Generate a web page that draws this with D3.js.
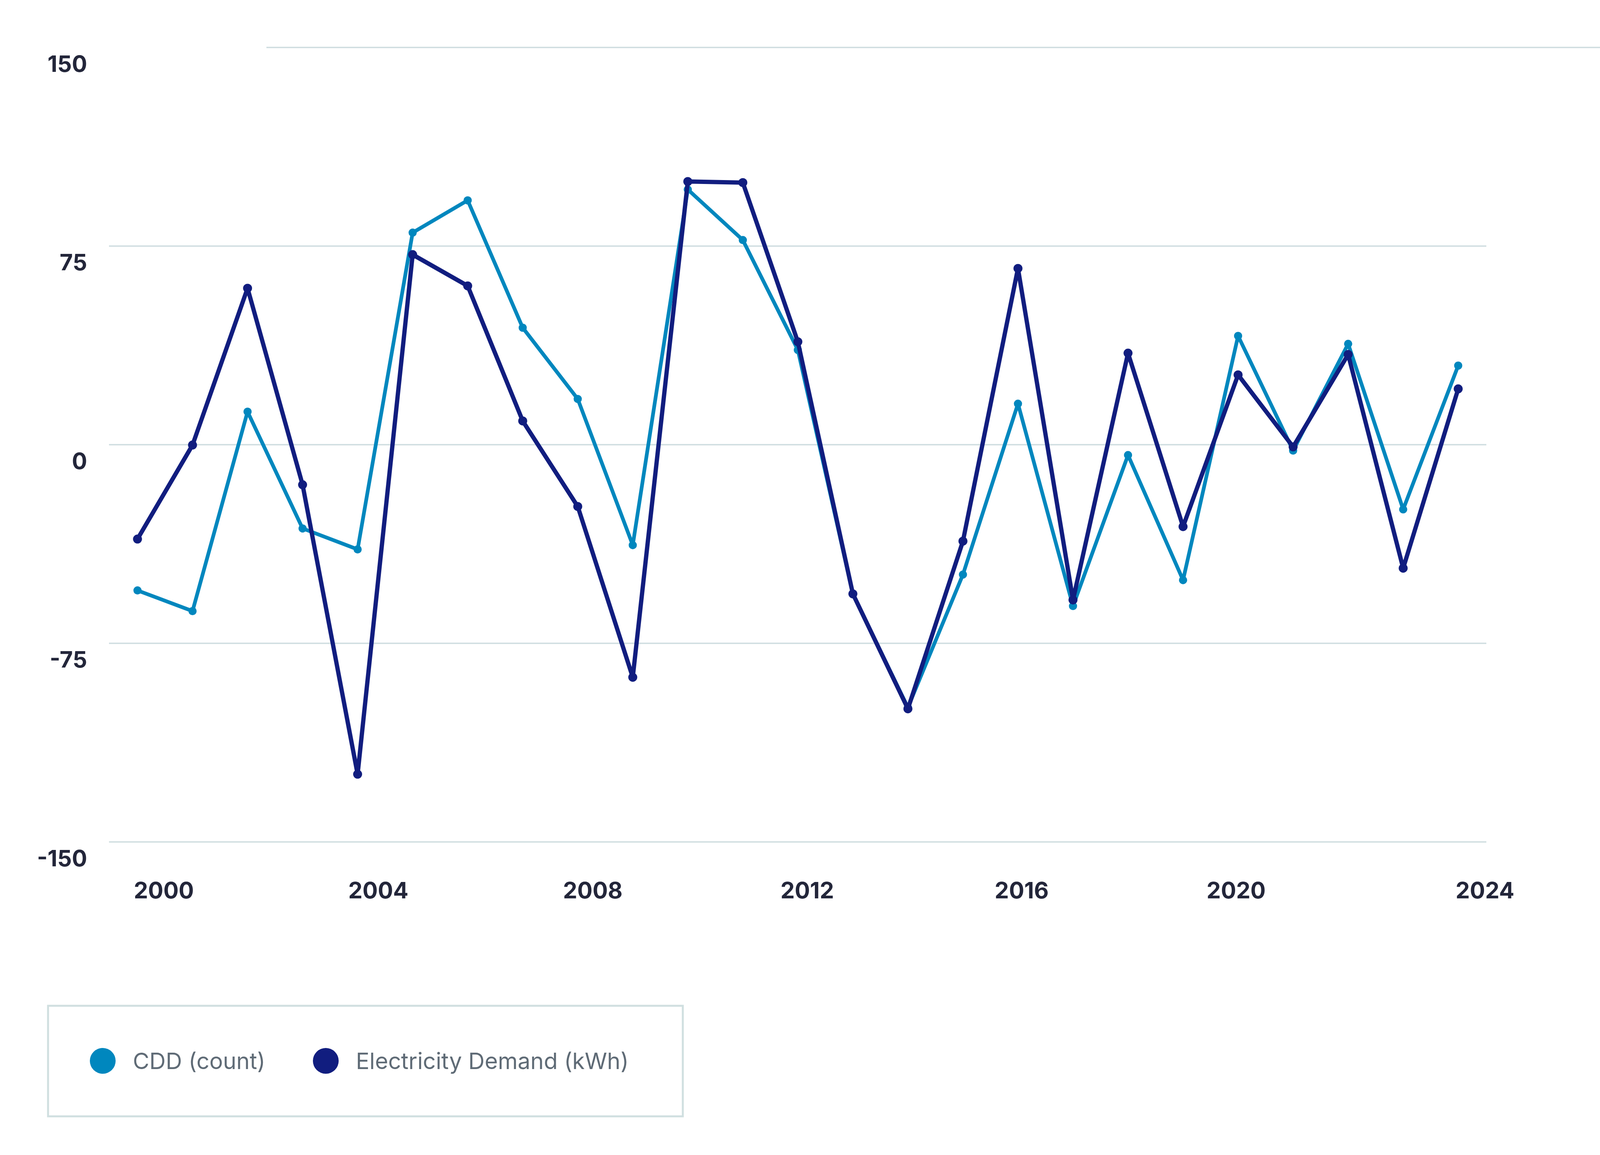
<!DOCTYPE html>
<html>
<head>
<meta charset="utf-8">
<script src="https://cdn.jsdelivr.net/npm/d3@7"></script>
<style>
  body { margin: 0; background: #fff; }
  svg { display: block; font-family: Inter, "Noto Sans", sans-serif; }
</style>
</head>
<body>
<div id="chart-area"></div>
<script>
// data
var years = [2000, 2001, 2002, 2003, 2004, 2005, 2006, 2007, 2008, 2009, 2010, 2011, 2012,
             2013, 2014, 2015, 2016, 2017, 2018, 2019, 2020, 2021, 2022, 2023, 2024];
var cdd = [-55.1, -62.9, 12.4, -31.7, -39.6, 80.0, 92.2, 44.1, 17.2, -38.0, 96.3, 77.2, 35.7,
           -56.5, -99.3, -49.1, 15.4, -61.0, -4.0, -51.2, 41.0, -2.3, 38.0, -24.5, 29.8];
var demand = [-35.7, -0.2, 59.0, -15.2, -124.5, 71.7, 59.9, 8.9, -23.4, -87.9, 99.3, 98.9, 38.8,
              -56.4, -99.8, -36.5, 66.5, -58.7, 34.5, -31.0, 26.3, -0.9, 34.0, -46.7, 21.0];
var yTicks = [-150, -75, 0, 75, 150];
var xTicks = [2000, 2004, 2008, 2012, 2016, 2020, 2024];
var seriesNames = ["CDD (count)", "Electricity Demand (kWh)"];
var seriesColors = ["#0087be", "#111d7f"];

var W = 4378, H = 2957;

var svg = d3.select("#chart-area")
  .append("svg")
    .attr("width", W)
    .attr("height", H);

var x = d3.scaleLinear()
    .domain([2000, 2024])
    .range([352, 3733]);

// the tick labels sit on their own slightly different spacing
var xLabel = d3.scaleLinear()
    .domain([2000, 2020, 2024])
    .range([419, 3164, 3801]);

var y = d3.scaleLinear()
    .domain([-150, 150])
    .range([2155, 121]);

// gridlines
var gridLeft = 279, gridRight = 3805;
var grid = svg.append("g")
    .attr("transform", "translate(" + gridLeft + ",0)")
    .call(d3.axisRight(y).tickValues(yTicks).tickSize(gridRight - gridLeft).tickFormat(""));
grid.select(".domain").remove();
grid.selectAll(".tick line")
    .attr("stroke", "#cfdde0")
    .attr("stroke-width", 3.5);
// top line is shifted to the right in the original
grid.selectAll(".tick")
    .filter(function(d) { return d === 150; })
    .select("line")
      .attr("x1", 403)
      .attr("x2", 4207 - gridLeft);

// y axis labels (plain hyphen for negatives, like the original)
var yAxis = svg.append("g")
    .attr("transform", "translate(223,0)")
    .call(d3.axisLeft(y).tickValues(yTicks).tickSize(0).tickPadding(0)
      .tickFormat(function(d) { return String(d); }));
yAxis.select(".domain").remove();
yAxis.selectAll("text")
    .attr("dy", 62)
    .attr("font-family", "Inter, sans-serif")
    .attr("font-size", "58px")
    .attr("font-weight", 700)
    .attr("fill", "#23263a");

// x axis labels
var xAxis = svg.append("g")
    .attr("transform", "translate(0,2300)")
    .call(d3.axisBottom(xLabel).tickValues(xTicks).tickSize(0).tickPadding(0).tickFormat(d3.format("d")));
xAxis.select(".domain").remove();
xAxis.selectAll("text")
    .attr("dy", 0)
    .attr("font-family", "Inter, sans-serif")
    .attr("font-size", "58px")
    .attr("font-weight", 700)
    .attr("fill", "#23263a");

// lines + dots
var line = d3.line()
    .x(function(d) { return x(d.year); })
    .y(function(d) { return y(d.value); });

var series = [cdd, demand].map(function(vals, i) {
  return {
    name: seriesNames[i],
    color: seriesColors[i],
    width: i === 0 ? 9.5 : 11,
    r: i === 0 ? 10.5 : 11.5,
    values: years.map(function(yr, j) { return {year: yr, value: vals[j]}; })
  };
});

series.forEach(function(s) {
  svg.append("path")
      .datum(s.values)
      .attr("fill", "none")
      .attr("stroke", s.color)
      .attr("stroke-width", s.width)
      .attr("stroke-linejoin", "round")
      .attr("d", line);

  svg.append("g")
    .selectAll("circle")
    .data(s.values)
    .enter()
    .append("circle")
      .attr("cx", function(d) { return x(d.year); })
      .attr("cy", function(d) { return y(d.value); })
      .attr("r", s.r)
      .attr("fill", s.color);
});

// legend
var legend = svg.append("g");
legend.append("rect")
    .attr("x", 123)
    .attr("y", 2575)
    .attr("width", 1625)
    .attr("height", 283)
    .attr("fill", "none")
    .attr("stroke", "#d0dfe0")
    .attr("stroke-width", 5);

var legendX = [263, 834];
var item = legend.selectAll(".item")
    .data(series)
    .enter()
    .append("g")
      .attr("class", "item")
      .attr("transform", function(d, i) { return "translate(" + legendX[i] + ",2716)"; });

item.append("circle")
    .attr("r", 33)
    .attr("fill", function(d) { return d.color; });

item.append("text")
    .attr("x", 77)
    .attr("y", 21)
    .attr("font-family", "Inter, sans-serif")
    .attr("font-size", "58px")
    .attr("fill", "#5f6b76")
    .text(function(d) { return d.name; });
</script>
</body>
</html>
